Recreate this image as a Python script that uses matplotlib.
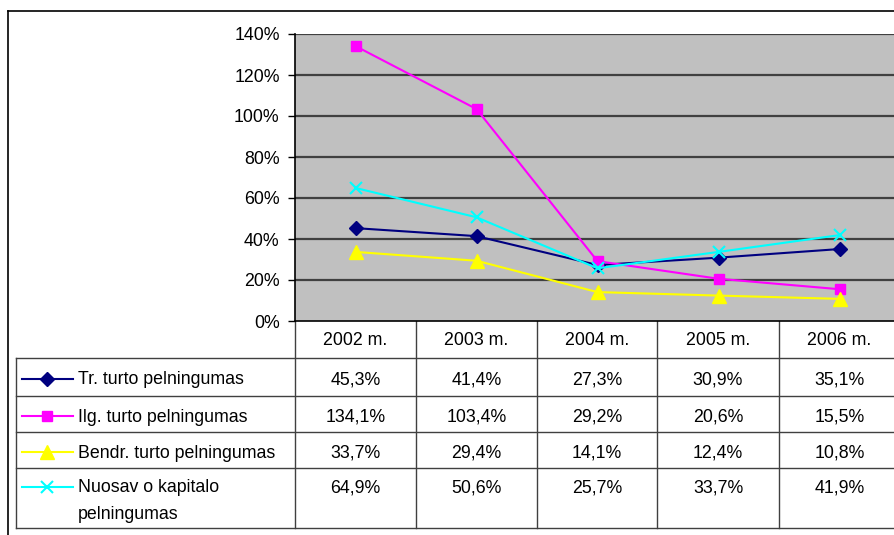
import matplotlib.pyplot as plt
from matplotlib.ticker import FuncFormatter

years = ['2002 m.', '2003 m.', '2004 m.', '2005 m.', '2006 m.']
series_names = ['Tr. turto pelningumas', 'Ilg. turto pelningumas',
                'Bendr. turto pelningumas', 'Nuosav o kapitalo\npelningumas']
tr_turto = [45.3, 41.4, 27.3, 30.9, 35.1]
ilg_turto = [134.1, 103.4, 29.2, 20.6, 15.5]
bendr_turto = [33.7, 29.4, 14.1, 12.4, 10.8]
nuosavo_kap = [64.9, 50.6, 25.7, 33.7, 41.9]
y_ticks = [0, 20, 40, 60, 80, 100, 120, 140]

all_series = [tr_turto, ilg_turto, bendr_turto, nuosavo_kap]
colors = ['#000080', '#FF00FF', '#FFFF00', '#00FFFF']
markers = ['D', 's', '^', 'x']
msizes = [7.5, 7.5, 9.5, 8.5]

plt.rcParams['font.family'] = ['Liberation Sans', 'DejaVu Sans']
FS = 12.8

W, H = 894, 535
fig = plt.figure(figsize=(W / 100, H / 100), dpi=100)

# layout in pixels
left, right, top, bottom = 295, 900, 34, 321
row_lines = [358, 396, 432, 468, 528]
col_lines = [295, 416, 537, 657, 779, 900]
table_left = 16

ax = fig.add_axes([left / W, 1 - bottom / H, (right - left) / W, (bottom - top) / H])
ax.set_facecolor('#C0C0C0')
ax.set_xlim(-0.5, len(years) - 0.5)
ax.set_ylim(0, 140)
ax.set_yticks(y_ticks)
ax.yaxis.set_major_formatter(FuncFormatter(lambda v, p: '%d%%' % v))
ax.set_xticks([])
ax.tick_params(axis='y', length=5, width=1, labelsize=FS, pad=6, color='black')
for t in y_ticks[1:]:
    ax.axhline(t, color='#404040', lw=1.6, zorder=1)
for side in ['top', 'right']:
    ax.spines[side].set_visible(False)
ax.spines['left'].set_linewidth(1.2)
ax.spines['bottom'].set_linewidth(1.2)

xs = range(len(years))
for vals, c, m, ms in zip(all_series, colors, markers, msizes):
    if m == 'x':
        ax.plot(xs, vals, color=c, lw=1.5, marker=m, ms=ms, mew=1.5, zorder=3, clip_on=False)
    else:
        ax.plot(xs, vals, color=c, lw=1.5, marker=m, ms=ms, mec=c, mfc=c, zorder=3, clip_on=False)

# overlay in pixel coordinates for the frame and the data table
ov = fig.add_axes([0, 0, 1, 1], zorder=-1)
ov.set_xlim(0, W)
ov.set_ylim(H, 0)
ov.axis('off')
ov.patch.set_visible(False)

# outer chart border (cut by the image edges)
ov.plot([8, W], [11, 11], color='black', lw=1.2)
ov.plot([8, 8], [11, H], color='black', lw=1.2)

lc = '#404040'
for y in row_lines:
    ov.plot([table_left, right], [y, y], color=lc, lw=1)
ov.plot([table_left, table_left], [row_lines[0], row_lines[-1]], color=lc, lw=1)
for x in col_lines:
    ov.plot([x, x], [bottom, row_lines[-1]], color=lc, lw=1)

# header row
for i, yr in enumerate(years):
    cx = (col_lines[i] + col_lines[i + 1]) / 2
    ov.text(cx, (bottom + row_lines[0]) / 2 + 1, yr, ha='center', va='center', fontsize=FS)

# data rows
for r, (name, vals, c, m, ms) in enumerate(zip(series_names, all_series, colors, markers, msizes)):
    y0, y1 = row_lines[r], row_lines[r + 1]
    cy = (y0 + y1) / 2 + 3 if r < 3 else y0 + 20
    ov.plot([22, 73], [cy - 1, cy - 1], color=c, lw=1.5)
    if m == 'x':
        ov.plot([47], [cy - 1], marker=m, color=c, ms=ms, mew=1.5)
    else:
        ov.plot([47], [cy - 1], marker=m, color=c, ms=ms, mec=c)
    if r < 3:
        ov.text(78, cy, name, ha='left', va='center', fontsize=FS)
    else:
        ov.text(78, cy - 9, name, ha='left', va='top', fontsize=FS, linespacing=1.75)
    for i, v in enumerate(vals):
        cx = (col_lines[i] + col_lines[i + 1]) / 2
        ov.text(cx, cy, ('%.1f%%' % v).replace('.', ','), ha='center', va='center', fontsize=FS)

fig.savefig('out.png', dpi=100, facecolor='white')
